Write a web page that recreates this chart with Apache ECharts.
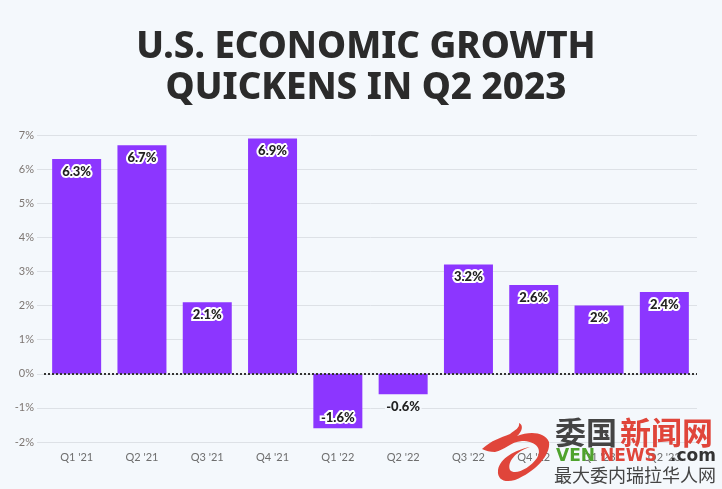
<!DOCTYPE html>
<html>
<head>
<meta charset="utf-8">
<style>html,body{margin:0;padding:0;background:#f4f8fc}#main{width:722px;height:489px}</style>
<script src="https://cdn.jsdelivr.net/npm/echarts@6/dist/echarts.min.js"></script>
</head>
<body>
<div id="main"></div>
<script>
var quarters = ["Q1 '21", "Q2 '21", "Q3 '21", "Q4 '21", "Q1 '22", "Q2 '22", "Q3 '22", "Q4 '22", "Q1 '23", "Q2 '23"];
var growth = [6.3, 6.7, 2.1, 6.9, -1.6, -0.6, 3.2, 2.6, 2, 2.4];
var titleLines = ['U.S. ECONOMIC GROWTH', 'QUICKENS IN Q2 2023'];

var bg = '#f4f8fc';
var tickFont = 'Lato, sans-serif';

// watermark dragon, rough outline
echarts.graphic.registerShape('dragon', echarts.graphic.extendPath('M482 449 C492 440 500 438 510 434 C515 430 520 428 519 423 C524 425 522 432 517 436 C530 431 545 432 549 442 C551 455 535 472 515 480 C505 483 497 480 498 470 C500 458 515 450 530 447 C515 452 507 462 510 470 C515 476 530 468 537 458 C543 448 535 441 522 441 C510 442 505 450 495 452 C490 452 486 451 482 449 Z'));

var myChart = echarts.init(document.getElementById('main'));

var option = {
    backgroundColor: bg,
    animation: false,
    title: {
        text: titleLines.join('\n'),
        left: 361,
        textAlign: 'center',
        top: 22,
        textStyle: {
            fontFamily: '"Noto Sans", sans-serif',
            fontWeight: 800,
            fontSize: 36.7,
            lineHeight: 41,
            color: '#2b2b2b'
        }
    },
    grid: { left: 44, right: 25, top: 135, bottom: 47 },
    xAxis: {
        type: 'category',
        data: quarters,
        axisLine: { onZero: false, lineStyle: { color: '#dde1e6' } },
        axisTick: { alignWithLabel: true, length: 8, lineStyle: { color: '#dde1e6' } },
        axisLabel: { color: '#6e6e6e', fontSize: 11, fontFamily: tickFont, margin: 10 }
    },
    yAxis: {
        type: 'value',
        min: -2,
        max: 7,
        interval: 1,
        axisLine: { show: false },
        axisTick: { show: true, length: 7, lineStyle: { color: '#dde1e6' } },
        splitLine: { lineStyle: { color: '#dde1e6' } },
        axisLabel: { color: '#7d7672', fontSize: 11, fontFamily: tickFont, margin: 10, formatter: '{value}%' }
    },
    series: [{
        type: 'bar',
        barWidth: 49,
        itemStyle: { color: '#8c36ff' },
        label: {
            show: true,
            position: 'insideTop',
            distance: 6,
            formatter: function (p) { return p.value + '%'; },
            fontFamily: 'Lato, sans-serif',
            fontWeight: 900,
            fontSize: 13,
            color: '#222',
            textBorderColor: '#fff',
            textBorderWidth: 4
        },
        data: growth.map(function (v, i) {
            if (i == 4) return { value: v, label: { position: 'insideBottom', distance: 4 } };
            if (i == 5) return { value: v, label: { position: 'bottom', distance: 6, textBorderColor: bg } };
            return v;
        }),
        markLine: {
            silent: true,
            symbol: 'none',
            label: { show: false },
            lineStyle: { color: '#333', type: [2, 2], width: 2 },
            data: [{ yAxis: 0 }]
        }
    }],
    graphic: [
        { type: 'dragon', z: 10, style: { fill: '#e0453a' } },
        { type: 'text', left: 555, top: 417, z: 10, style: { text: '委国', font: '700 31px "Noto Sans CJK SC"', fill: '#444' } },
        { type: 'text', left: 620, top: 417, z: 10, style: { text: '新闻网', font: '700 31px "Noto Sans CJK SC"', fill: '#e0453a' } },
        { type: 'text', left: 556, top: 448, z: 10, style: { text: 'VEN', font: '700 17px "DejaVu Sans"', fill: '#4fa32e' } },
        { type: 'text', left: 600, top: 448, z: 10, style: { text: 'NEWS', font: '700 17px "DejaVu Sans"', fill: '#e0453a' } },
        { type: 'text', left: 670, top: 448, z: 10, style: { text: '.com', font: '700 17px "DejaVu Sans"', fill: '#333' } },
        { type: 'text', left: 554, top: 466, z: 10, style: { text: '最大委内瑞拉华人网', font: '400 18px "Noto Sans CJK SC"', fill: '#444' } }
    ]
};
myChart.setOption(option);
</script>
</body>
</html>
